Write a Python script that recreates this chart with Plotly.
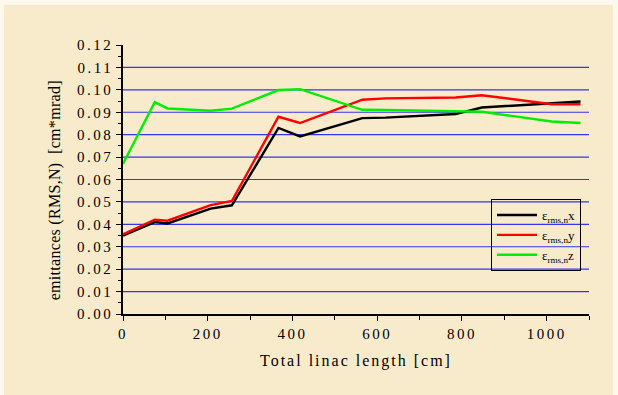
import plotly.graph_objects as go

# Emittance growth along the linac (normalised RMS, cm*mrad)
length_cm = [0, 75, 105, 207, 257, 367, 418, 565, 620, 785, 847, 1012, 1080]
eps_x = [0.0350, 0.0410, 0.0404, 0.0470, 0.0485, 0.0830, 0.0792, 0.0874, 0.0876, 0.0892, 0.0921, 0.0938, 0.0948]
eps_y = [0.0355, 0.0421, 0.0416, 0.0486, 0.0504, 0.0880, 0.0852, 0.0956, 0.0962, 0.0966, 0.0976, 0.0936, 0.0936]
eps_z = [0.0670, 0.0945, 0.0917, 0.0907, 0.0916, 0.0999, 0.1003, 0.0911, 0.0910, 0.0903, 0.0902, 0.0859, 0.0852]

series_names = ["ε<sub>rms,n</sub>x", "ε<sub>rms,n</sub>y", "ε<sub>rms,n</sub>z"]
series_colors = ["#000000", "#FF0000", "#00EE00"]
grid_levels = [0.01, 0.02, 0.03, 0.04, 0.05, 0.06, 0.07, 0.08, 0.09, 0.10, 0.11]

W, H = 618, 395
L, R, T, B = 123, 29, 45, 81
PW, PH = W - L - R, H - T - B
SERIF = "Liberation Serif, Times New Roman, serif"


def px_x(p):
    return (p - L) / PW


def px_y(p):
    return (H - B - p) / PH


fig = go.Figure()
for ys, name, col in zip([eps_x, eps_y, eps_z], series_names, series_colors):
    fig.add_trace(go.Scatter(x=length_cm, y=ys, mode="lines", name=name,
                             line=dict(color=col, width=2.4)))

shapes = [
    # parchment panel with a thin pale border around it
    dict(type="rect", xref="paper", yref="paper", layer="below",
         x0=px_x(4), x1=px_x(613), y0=px_y(395), y1=px_y(5),
         fillcolor="#F8EBCC", line=dict(width=0)),
]
for g in grid_levels:
    shapes.append(dict(type="line", xref="x", yref="y", layer="below",
                       x0=0, x1=1100, y0=g, y1=g,
                       line=dict(color="#3535F0", width=1.2)))

fig.update_layout(
    width=W, height=H,
    margin=dict(l=L, r=R, t=T, b=B),
    paper_bgcolor="#FCF8EE",
    plot_bgcolor="rgba(0,0,0,0)",
    font=dict(family=SERIF, size=15, color="#000000"),
    shapes=shapes,
    showlegend=True,
    legend=dict(x=px_x(491), y=px_y(199), xanchor="left", yanchor="top",
                bgcolor="rgba(0,0,0,0)", bordercolor="#000000", borderwidth=1,
                font=dict(family=SERIF, size=13), itemwidth=40,
                tracegroupgap=0),
    annotations=[
        dict(text="Total linac length [cm]", xref="paper", yref="paper",
             x=0.5, y=px_y(361), xanchor="center", yanchor="middle",
             showarrow=False, font=dict(family=SERIF, size=16)),
        dict(text="emittances (RMS,N)  [cm*mrad]", xref="paper", yref="paper",
             x=px_x(55), y=px_y(190), xanchor="center", yanchor="middle",
             textangle=-90, showarrow=False, font=dict(family=SERIF, size=16)),
    ],
)

fig.update_xaxes(range=[0, 1100], dtick=200, tick0=0, showgrid=False, zeroline=False,
                 showline=True, linecolor="#000000", linewidth=1.5,
                 ticks="outside", ticklen=5, tickwidth=1.2, tickcolor="#000000",
                 minor=dict(dtick=100, ticks="outside", ticklen=4, tickwidth=1.2,
                            tickcolor="#000000"),
                 tickfont=dict(family=SERIF, size=15))
fig.update_yaxes(range=[0, 0.12], dtick=0.01, tick0=0, tickformat=".2f",
                 showgrid=False, zeroline=False,
                 showline=True, linecolor="#000000", linewidth=1.5,
                 ticks="outside", ticklen=5, tickwidth=1.2, tickcolor="#000000",
                 minor=dict(dtick=0.005, ticks="outside", ticklen=3, tickwidth=1.2,
                            tickcolor="#000000"),
                 tickfont=dict(family=SERIF, size=15))

spacing_js = """
function spreadText() {
  document.querySelectorAll('.ytick text, .xtick text').forEach(function (e) { e.style.letterSpacing = '2.5px'; });
  var ann = document.querySelectorAll('.annotation-text');
  if (ann.length > 0) { ann[0].style.letterSpacing = '2px'; }
  if (ann.length > 1) { ann[1].style.letterSpacing = '0.3px'; }
}
spreadText();
var gd = document.getElementById('{plot_id}');
if (gd && gd.on) { gd.on('plotly_afterplot', spreadText); }
"""

fig.write_html("out.html", post_script=spacing_js)
